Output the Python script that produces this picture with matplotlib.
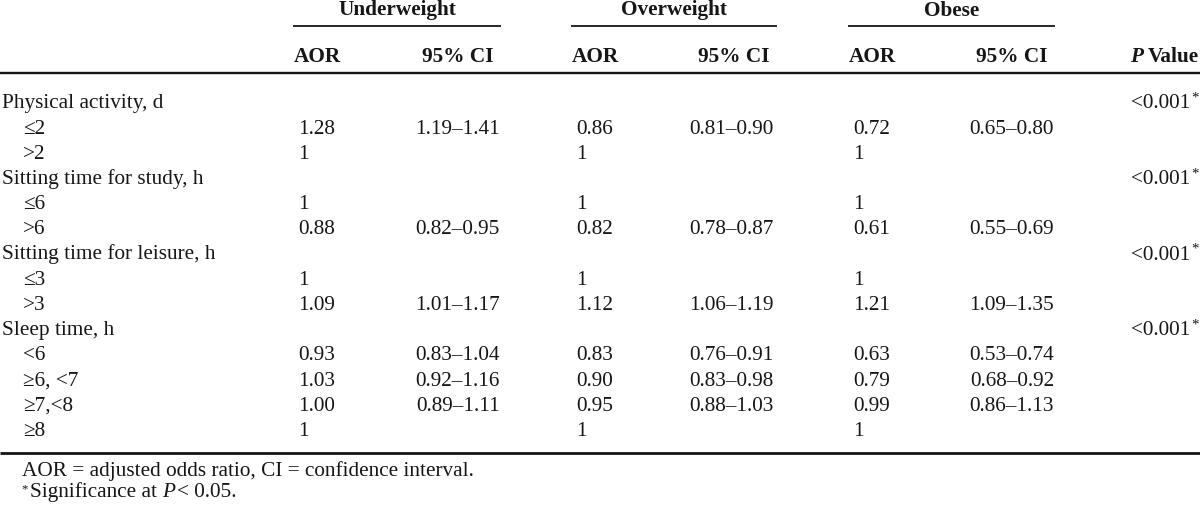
import matplotlib
matplotlib.use("Agg")
import matplotlib.pyplot as plt

# ---- data ----
groups = ["Underweight", "Overweight", "Obese"]
row_labels = ["Physical activity, d", "\u22642", ">2",
              "Sitting time for study, h", "\u22646", ">6",
              "Sitting time for leisure, h", "\u22643", ">3",
              "Sleep time, h", "<6", "\u22656, <7", "\u22657,<8", "\u22658"]
is_sub = [0, 1, 1, 0, 1, 1, 0, 1, 1, 0, 1, 1, 1, 1]
uw_aor = ["", "1.28", "1", "", "1", "0.88", "", "1", "1.09", "", "0.93", "1.03", "1.00", "1"]
uw_ci = ["", "1.19\u20131.41", "", "", "", "0.82\u20130.95", "", "", "1.01\u20131.17", "",
         "0.83\u20131.04", "0.92\u20131.16", "0.89\u20131.11", ""]
ow_aor = ["", "0.86", "1", "", "1", "0.82", "", "1", "1.12", "", "0.83", "0.90", "0.95", "1"]
ow_ci = ["", "0.81\u20130.90", "", "", "", "0.78\u20130.87", "", "", "1.06\u20131.19", "",
         "0.76\u20130.91", "0.83\u20130.98", "0.88\u20131.03", ""]
ob_aor = ["", "0.72", "1", "", "1", "0.61", "", "1", "1.21", "", "0.63", "0.79", "0.99", "1"]
ob_ci = ["", "0.65\u20130.80", "", "", "", "0.55\u20130.69", "", "", "1.09\u20131.35", "",
         "0.53\u20130.74", "0.68\u20130.92", "0.86\u20131.13", ""]
p_values = ["<0.001", "", "", "<0.001", "", "", "<0.001", "", "", "<0.001", "", "", "", ""]
footnote1 = "AOR = adjusted odds ratio, CI = confidence interval."

# ---- layout ----
W, H = 1200, 508
fig = plt.figure(figsize=(W / 100, H / 100), dpi=100)
ax = fig.add_axes([0, 0, 1, 1])
ax.set_xlim(0, W)
ax.set_ylim(H, 0)
ax.axis("off")

FONT = "Liberation Serif"
FS = 15.3
col = "#161616"

def txt(x, y, s, ha="left", weight="normal", style="normal", size=FS):
    return ax.text(x, y, s, ha=ha, va="baseline", fontsize=size, family=FONT,
                   fontweight=weight, fontstyle=style, color=col)

fig.canvas.draw()
renderer = fig.canvas.get_renderer()

def width(t):
    bb = t.get_window_extent(renderer=renderer)
    return bb.width

# group headers
group_spans = [(293, 501), (571, 777), (848, 1055)]
aor_x = [294, 572, 849]
ci_hdr_x = [493, 770, 1048]
ci_x = [500, 774, 1054]
for g, (x0, x1) in zip(groups, group_spans):
    txt((x0 + x1) / 2, 15.5, g, ha="center", weight="bold")
    ax.plot([x0, x1], [25.5, 25.5], color=col, lw=1.3, solid_capstyle="butt")
for i in range(3):
    txt(aor_x[i], 62, "AOR", weight="bold")
    txt(ci_hdr_x[i], 62, "95% CI", ha="right", weight="bold")
tv = txt(1199, 62, "Value", ha="right", weight="bold")
wv = width(tv)
txt(1199 - wv - 5, 62, "P", ha="right", weight="bold", style="italic")

ax.plot([0, W], [73, 73], color=col, lw=1.7, solid_capstyle="butt")

# body
y0, dy = 108.3, 25.2
cols = [(uw_aor, uw_ci), (ow_aor, ow_ci), (ob_aor, ob_ci)]
for r, lab in enumerate(row_labels):
    y = y0 + dy * r
    txt(23 if is_sub[r] else 2, y, lab)
    for i, (aor, ci) in enumerate(cols):
        if aor[r]:
            txt(aor_x[i] + 4, y, aor[r])
        if ci[r]:
            txt(ci_x[i], y, ci[r], ha="right")
    if p_values[r]:
        txt(1199, y - 6.5, "*", ha="right", size=FS * 0.7)
        txt(1190, y, p_values[r], ha="right")

ax.plot([0, W], [452.5, 452.5], color=col, lw=2.0, solid_capstyle="butt")

# footnotes
txt(22, 476, footnote1)
txt(21, 492.5, "*", size=FS * 0.6)
t1 = txt(30, 497, "Significance at ")
x = 30 + width(t1)
t2 = txt(x, 497, "P", style="italic")
x += width(t2) + 2
t3 = txt(x, 497, "< 0.05.")

fig.savefig("out.png", dpi=100)
